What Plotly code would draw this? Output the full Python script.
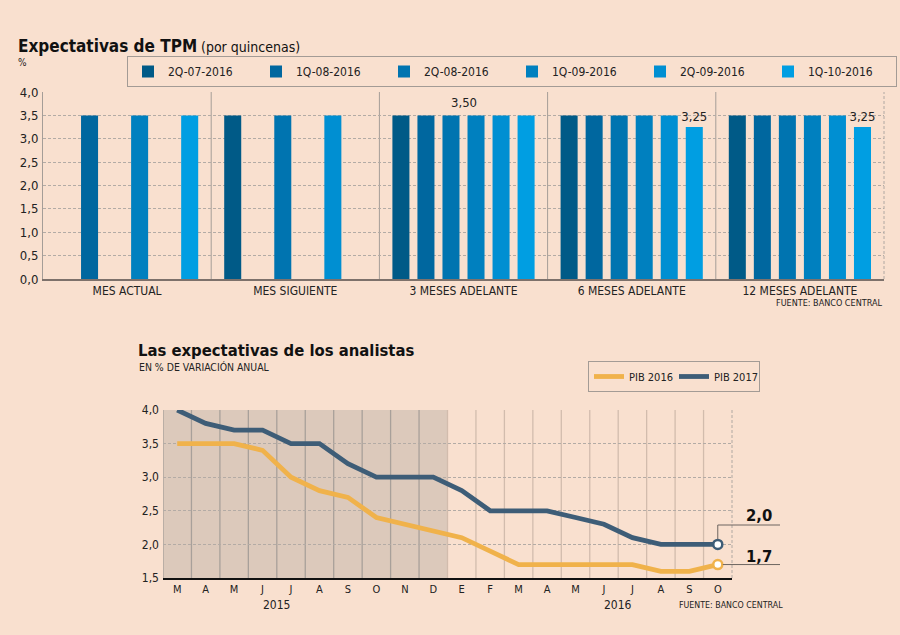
import plotly.graph_objects as go

# ---------------- data ----------------
categories = ["MES ACTUAL", "MES SIGUIENTE", "3 MESES ADELANTE", "6 MESES ADELANTE", "12 MESES ADELANTE"]
series_names = ["2Q-07-2016", "1Q-08-2016", "2Q-08-2016", "1Q-09-2016", "2Q-09-2016", "1Q-10-2016"]
s_2q07 = [None, 3.5, 3.5, 3.5, 3.5]
s_1q08 = [3.5, None, 3.5, 3.5, 3.5]
s_2q08 = [None, 3.5, 3.5, 3.5, 3.5]
s_1q09 = [3.5, None, 3.5, 3.5, 3.5]
s_2q09 = [None, 3.5, 3.5, 3.5, 3.5]
s_1q10 = [3.5, None, 3.5, 3.25, 3.25]
bar_labels_1q10 = ["", "", "", "3,25", "3,25"]
group_label = "3,50"
top_yticks = [0, 0.5, 1, 1.5, 2, 2.5, 3, 3.5, 4]

months = ["M", "A", "M", "J", "J", "A", "S", "O", "N", "D",
          "E", "F", "M", "A", "M", "J", "J", "A", "S", "O"]
pib2016 = [3.5, 3.5, 3.5, 3.4, 3.0, 2.8, 2.7, 2.4, 2.3, 2.2,
           2.1, 1.9, 1.7, 1.7, 1.7, 1.7, 1.7, 1.6, 1.6, 1.7]
pib2017 = [4.0, 3.8, 3.7, 3.7, 3.5, 3.5, 3.2, 3.0, 3.0, 3.0,
           2.8, 2.5, 2.5, 2.5, 2.4, 2.3, 2.1, 2.0, 2.0, 2.0]
years = ["2015", "2016"]
shaded_months = 10  # Mar-Dec 2015

# ---------------- style ----------------
BG = "#f9e0cf"
bar_colors = ["#005a87", "#00679f", "#0074b0", "#0080bf", "#008fd2", "#009ee2"]
GOLD = "#f0b24b"
NAVY = "#3e5d77"
COND = "DejaVu Sans Condensed, DejaVu Sans, sans-serif"
W, H = 900, 635

def fx(p):
    return p / W

def fy(p):
    return 1 - p / H

top_x = [43, 884]
top_y = [92, 279]
bot_x = [163, 732]
bot_y = [410, 578]

fig = go.Figure()

series = [s_2q07, s_1q08, s_2q08, s_1q09, s_2q09, s_1q10]
for i, (nm, vals) in enumerate(zip(series_names, series)):
    kw = {}
    if i == len(series) - 1:
        kw = dict(text=bar_labels_1q10, textposition="outside", constraintext="none",
                  textfont=dict(family=COND, size=13, color="#222"), cliponaxis=False)
    fig.add_trace(go.Bar(x=categories, y=vals, name=nm, marker_color=bar_colors[i],
                         marker_line_width=0, xaxis="x", yaxis="y", legend="legend",
                         hoverinfo="skip", **kw))

xs = list(range(len(months)))
fig.add_trace(go.Scatter(x=xs, y=pib2016, name="PIB 2016", mode="lines",
                         line=dict(color=GOLD, width=4.8), xaxis="x2", yaxis="y2",
                         legend="legend2"))
fig.add_trace(go.Scatter(x=xs, y=pib2017, name="PIB 2017", mode="lines",
                         line=dict(color=NAVY, width=4.8), xaxis="x2", yaxis="y2",
                         legend="legend2"))
fig.add_trace(go.Scatter(x=[xs[-1]], y=[pib2016[-1]], mode="markers", showlegend=False,
                         marker=dict(color="white", size=9, line=dict(color=GOLD, width=2.5)),
                         xaxis="x2", yaxis="y2", cliponaxis=False))
fig.add_trace(go.Scatter(x=[xs[-1]], y=[pib2017[-1]], mode="markers", showlegend=False,
                         marker=dict(color="white", size=9, line=dict(color=NAVY, width=2.5)),
                         xaxis="x2", yaxis="y2", cliponaxis=False))

shapes = []
# top chart group separators
for k in range(len(categories) - 1):
    shapes.append(dict(type="line", xref="x", yref="y domain", x0=k + 0.5, x1=k + 0.5,
                       y0=0, y1=1, line=dict(color="#a59d97", width=1), layer="below"))
shapes.append(dict(type="line", xref="x domain", yref="y domain", x0=1, x1=1, y0=0, y1=1,
                   line=dict(color="#b0a8a2", width=1, dash="3px,2px")))
# bottom chart shaded region
shapes.append(dict(type="rect", xref="x2", yref="y2 domain", x0=-0.5, x1=shaded_months - 0.5,
                   y0=0, y1=1, fillcolor="#dcc9bb", line=dict(width=0), layer="below"))
for k in range(len(months)):
    col = "#a8a09a" if k < shaded_months else "#d2bcad"
    shapes.append(dict(type="line", xref="x2", yref="y2 domain", x0=k - 0.5, x1=k - 0.5,
                       y0=0, y1=1, line=dict(color=col, width=1.3), layer="below"))
shapes.append(dict(type="line", xref="x2 domain", yref="y2 domain", x0=1, x1=1, y0=0, y1=1,
                   line=dict(color="#b0a8a2", width=1, dash="3px,2px")))

# leader lines for end values (paper coords)
def bx(v):
    return fx(bot_x[0] + (v + 0.5) / len(months) * (bot_x[1] - bot_x[0]))

def by(v):
    return fy(bot_y[1] - (v - 1.5) / 2.5 * (bot_y[1] - bot_y[0]))

ex = bx(xs[-1])
y20 = by(pib2017[-1])
y17 = by(pib2016[-1])
shapes.append(dict(type="path", xref="paper", yref="paper",
                   path=f"M{ex},{y20 + 5/H} L{ex},{fy(525)} L{fx(780)},{fy(525)}",
                   line=dict(color="#6d6560", width=1)))
shapes.append(dict(type="line", xref="paper", yref="paper", x0=ex + 5/W, x1=fx(780),
                   y0=y17, y1=y17, line=dict(color="#6d6560", width=1)))

annotations = [
    dict(text="<b>Expectativas de TPM</b>", x=fx(16), y=fy(46), xref="paper", yref="paper",
         xanchor="left", yanchor="middle", showarrow=False,
         font=dict(family=COND, size=17, color="#111")),
    dict(text="(por quincenas)", x=fx(199), y=fy(47), xref="paper", yref="paper",
         xanchor="left", yanchor="middle", showarrow=False,
         font=dict(family=COND, size=14, color="#111")),
    dict(text="%", x=fx(16), y=fy(62), xref="paper", yref="paper", xanchor="left",
         yanchor="middle", showarrow=False, font=dict(family=COND, size=10, color="#222")),
    dict(text=group_label, x=categories[2], y=3.5, xref="x", yref="y", yanchor="bottom",
         yshift=3, showarrow=False, font=dict(family=COND, size=13, color="#222")),
    dict(text="FUENTE: BANCO CENTRAL", x=fx(884), y=fy(303), xref="paper", yref="paper",
         xanchor="right", yanchor="middle", showarrow=False,
         font=dict(family=COND, size=9, color="#222")),
    dict(text="<b>Las expectativas de los analistas</b>", x=fx(136), y=fy(351), xref="paper",
         yref="paper", xanchor="left", yanchor="middle", showarrow=False,
         font=dict(family=COND, size=16.5, color="#111")),
    dict(text="EN % DE VARIACIÓN ANUAL", x=fx(137), y=fy(367), xref="paper", yref="paper",
         xanchor="left", yanchor="middle", showarrow=False,
         font=dict(family=COND, size=10.4, color="#222")),
    dict(text=years[0], x=3.5, y=fy(605), xref="x2", yref="paper", yanchor="middle",
         showarrow=False, font=dict(family=COND, size=12, color="#222")),
    dict(text=years[1], x=15.5, y=fy(605), xref="x2", yref="paper", yanchor="middle",
         showarrow=False, font=dict(family=COND, size=12, color="#222")),
    dict(text="FUENTE: BANCO CENTRAL", x=fx(785), y=fy(605), xref="paper", yref="paper",
         xanchor="right", yanchor="middle", showarrow=False,
         font=dict(family=COND, size=8.8, color="#222")),
    dict(text="<b>" + f"{pib2017[-1]:.1f}".replace(".", ",") + "</b>", x=fx(759), y=fy(515),
         xref="paper", yref="paper", xanchor="center", yanchor="middle", showarrow=False,
         font=dict(family=COND, size=16.5, color="#111")),
    dict(text="<b>" + f"{pib2016[-1]:.1f}".replace(".", ",") + "</b>", x=fx(759), y=fy(556),
         xref="paper", yref="paper", xanchor="center", yanchor="middle", showarrow=False,
         font=dict(family=COND, size=16.5, color="#111")),
]

fig.update_layout(
    width=W, height=H, margin=dict(l=0, r=0, t=0, b=0, autoexpand=False),
    paper_bgcolor=BG, plot_bgcolor="rgba(0,0,0,0)",
    separators=",.",
    barmode="group", bargap=0.107, bargroupgap=0.32,
    font=dict(family=COND, color="#222"),
    showlegend=True,
    xaxis=dict(domain=[fx(top_x[0]), fx(top_x[1])], range=[-0.5, len(categories) - 0.5],
               showgrid=False, showline=True, linecolor="#7d716b", linewidth=2,
               ticks="", tickfont=dict(size=12, color="#222"), fixedrange=True,
               zeroline=False),
    yaxis=dict(domain=[fy(top_y[1]), fy(top_y[0])], range=[0, 4.0], tickvals=top_yticks,
               tickformat=".1f", showgrid=True, gridcolor="#b3aba5", griddash="3px,2px",
               gridwidth=1, showline=True, linecolor="#a59d97", linewidth=1, zeroline=False,
               ticks="", tickfont=dict(size=13, color="#222"), ticklabelstandoff=1),
    xaxis2=dict(domain=[fx(bot_x[0]), fx(bot_x[1])], range=[-0.5, len(months) - 0.5],
                tickvals=xs, ticktext=months, showgrid=False, showline=True, zeroline=False,
                linecolor="#111", linewidth=1.5, ticks="", tickfont=dict(size=11, color="#222"),
                anchor="y2"),
    yaxis2=dict(domain=[fy(bot_y[1]), fy(bot_y[0])], range=[1.5, 4.0], dtick=0.5,
                tickformat=".1f", showgrid=True, gridcolor="#b3aba5", griddash="3px,2px",
                gridwidth=1, showline=False, zeroline=False, ticks="",
                tickfont=dict(size=12, color="#222"), anchor="x2", ticklabelstandoff=3),
    legend=dict(orientation="h", x=fx(127), y=fy(56), xanchor="left", yanchor="top",
                bordercolor="#a39b95", borderwidth=1, bgcolor="rgba(0,0,0,0)",
                entrywidth=83, entrywidthmode="pixels", itemwidth=30,
                font=dict(size=12, color="#222"), itemclick=False, itemdoubleclick=False),
    legend2=dict(orientation="h", x=fx(588), y=fy(361), xanchor="left", yanchor="top",
                 bordercolor="#a39b95", borderwidth=1, bgcolor="rgba(0,0,0,0)",
                 entrywidth=40, entrywidthmode="pixels", itemwidth=30,
                 font=dict(size=11, color="#222"), itemclick=False, itemdoubleclick=False),
    shapes=shapes,
    annotations=annotations,
)

fig.write_html("out.html", config={"displayModeBar": False},
               post_script="document.body.style.margin='0';document.body.style.overflow='hidden';")
